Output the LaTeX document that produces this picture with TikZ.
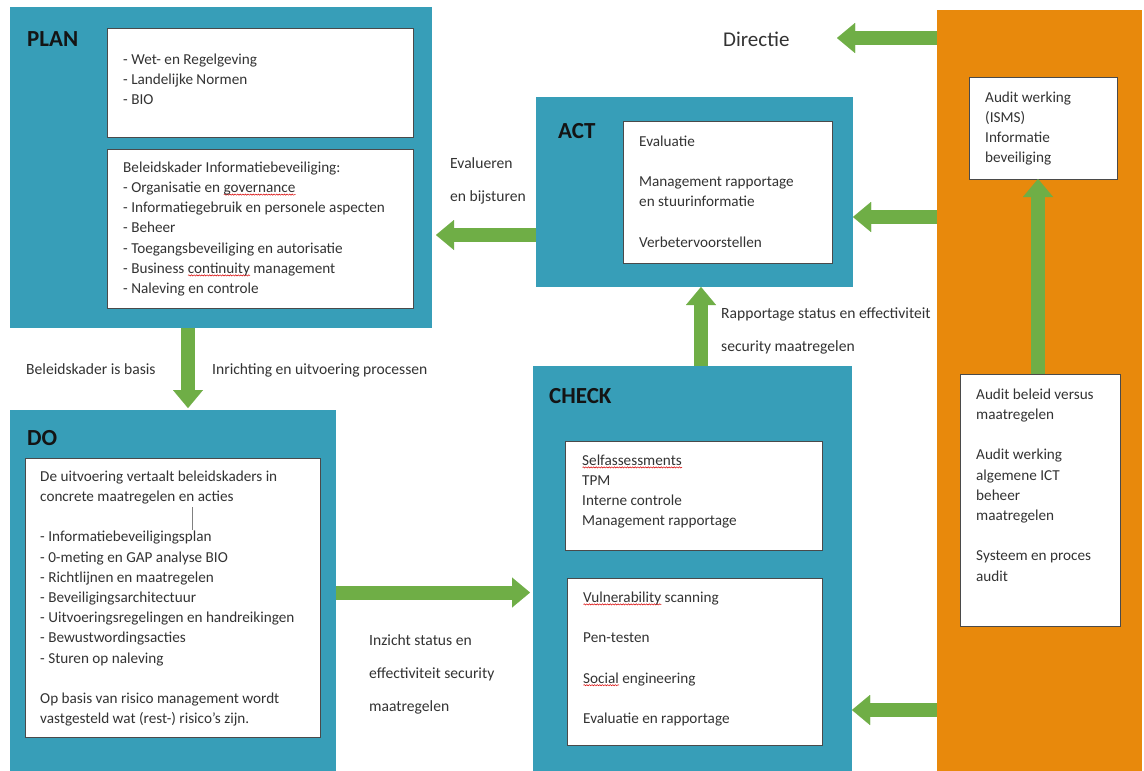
\documentclass[tikz,border=0pt]{standalone}
\usepackage{fontspec}
\setmainfont{Carlito}
\usetikzlibrary{arrows.meta,decorations.pathmorphing,calc}
\definecolor{phaseblue}{HTML}{379EB8}
\definecolor{auditorange}{HTML}{E8890C}
\definecolor{arrowgreen}{HTML}{6FAE46}
\definecolor{txtc}{HTML}{333333}
\definecolor{borderc}{HTML}{4A4A4A}
\newcommand\fs{\rule{0pt}{14pt}}
\newsavebox\spellbox
\newlength\spellwd
\newcommand\spell[1]{\sbox\spellbox{#1}\setlength\spellwd{\wd\spellbox}\rlap{\tikz[baseline=0pt]\draw[red!85!black,line width=0.5pt,decorate,decoration={snake,amplitude=0.6pt,segment length=2.6pt}] (0pt,-2.2pt) -- (\spellwd,-2.2pt);}\usebox\spellbox}
\tikzset{
  phase/.style={fill=phaseblue, draw=none, anchor=north west, inner sep=0pt, outer sep=0pt},
  audit/.style={fill=auditorange, draw=none, anchor=north west, inner sep=0pt, outer sep=0pt},
  inbox/.style={fill=white, draw=borderc, line width=0.9pt, anchor=north west, inner sep=0pt, outer sep=0pt},
  txt/.style={anchor=north west, inner sep=0pt, align=left, text=txtc, font=\fontsize{15.2}{20.2}\selectfont},
  lbl/.style={anchor=north west, inner sep=0pt, align=left, text=txtc, font=\fontsize{15.6}{33}\selectfont},
  title/.style={anchor=base west, inner sep=0pt, text=black!92, font=\bfseries\fontsize{23}{23}\selectfont},
  bigarrow/.style={draw=arrowgreen, line width=14pt, -{Triangle[width=30pt,length=18pt,line width=0.01pt]}},
}
\begin{document}
\begin{tikzpicture}[x=1pt,y=-1pt]
\useasboundingbox (0,0) rectangle (1144,771);
\fill[white] (0,0) rectangle (1144,771);

% ---------- PLAN ----------
\node[phase, minimum width=422pt, minimum height=321pt] (plan) at (10,7) {};
\node[title] (plantitle) at (27,46) {PLAN};
\node[inbox, minimum width=306pt, minimum height=109pt] (planA) at (107,28) {};
\node[inbox, minimum width=306pt, minimum height=159pt] (planB) at (107,149) {};
\node[txt] (planAt) at (123,50) {\fs- Wet- en Regelgeving\\- Landelijke Normen\\- BIO};
\node[txt] (planBt) at (123,158) {\fs Beleidskader Informatiebeveiliging:\\- Organisatie en \spell{governance}\\- Informatiegebruik en personele aspecten\\- Beheer\\- Toegangsbeveiliging en autorisatie\\- Business \spell{continuity} management\\- Naleving en controle};

% ---------- ACT ----------
\node[phase, minimum width=317pt, minimum height=190pt] (act) at (536,97) {};
\node[title] (acttitle) at (558,138) {ACT};
\node[inbox, minimum width=209pt, minimum height=142pt] (actin) at (623,121) {};
\node[txt] (actt) at (639,132) {\fs Evaluatie\\[20.2pt]Management rapportage\\en stuurinformatie\\[20.2pt]Verbetervoorstellen};

% ---------- DO ----------
\node[phase, minimum width=326pt, minimum height=362pt] (do) at (10,410) {};
\node[title] (dotitle) at (27,445) {DO};
\node[inbox, minimum width=295pt, minimum height=279pt] (doin) at (25,458) {};
\node[txt] (dot) at (40,467) {\fs De uitvoering vertaalt beleidskaders in\\concrete maatregelen en acties\\[20.2pt]- Informatiebeveiligingsplan\\- 0-meting en GAP analyse BIO\\- Richtlijnen en maatregelen\\- Beveiligingsarchitectuur\\- Uitvoeringsregelingen en handreikingen\\- Bewustwordingsacties\\- Sturen op naleving\\[20.2pt]Op basis van risico management wordt\\vastgesteld wat (rest-) risico's zijn.};
\draw[gray, line width=0.5pt] ([xshift=167pt,yshift=-49pt]doin.north west) -- ++(0,23);

% ---------- CHECK ----------
\node[phase, minimum width=319pt, minimum height=406pt] (check) at (533,366) {};
\node[title] (checktitle) at (549,403) {CHECK};
\node[inbox, minimum width=257pt, minimum height=109pt] (checkA) at (565,441) {};
\node[inbox, minimum width=255pt, minimum height=167pt] (checkB) at (567,578) {};
\node[txt] (checkAt) at (582,451) {\fs\spell{Selfassessments}\\TPM\\Interne controle\\Management rapportage};
\node[txt] (checkBt) at (583,588) {\fs\spell{Vulnerability} scanning\\[20.2pt]Pen-testen\\[20.2pt]\spell{Social} engineering\\[20.2pt]Evaluatie en rapportage};

% ---------- AUDIT (orange) ----------
\node[audit, minimum width=205pt, minimum height=762pt] (orange) at (937,10) {};
\node[inbox, minimum width=148pt, minimum height=102pt] (orA) at (969,77) {};
\node[inbox, minimum width=160pt, minimum height=252pt] (orB) at (960,374) {};
\node[txt] (orAt) at (985,88) {\fs Audit werking\\(ISMS)\\Informatie\\beveiliging};
\node[txt] (orBt) at (976,385) {\fs Audit beleid versus\\maatregelen\\[20.2pt]Audit werking\\algemene ICT\\beheer\\maatregelen\\[20.2pt]Systeem en proces\\audit};

% ---------- free labels ----------
\node[anchor=base west, inner sep=0pt, text=txtc, font=\fontsize{21}{21}\selectfont] (dir) at (723,46) {Directie};
\node[lbl] (evl) at (450,154) {\fs Evalueren\\en bijsturen};
\node[lbl] (basis) at (26,360) {\fs Beleidskader is basis};
\node[lbl] (inr) at (212,360) {\fs Inrichting en uitvoering processen};
\node[lbl] (inz) at (369,631) {\fs Inzicht status en\\effectiviteit security\\maatregelen};
\node[lbl] (rap) at (721,304) {\fs Rapportage status en effectiviteit\\security maatregelen};

% ---------- arrows ----------
\coordinate (dirtip) at (837,38);
\draw[bigarrow] (orange.west |- dirtip) -- (dirtip);
\coordinate (actin1) at ([yshift=-25pt]act.east);
\draw[bigarrow] (orange.west |- actin1) -- (actin1);
\coordinate (checkin1) at ([yshift=-141pt]check.east);
\draw[bigarrow] (orange.west |- checkin1) -- (checkin1);
\coordinate (actout) at ([yshift=-43pt]act.west);
\draw[bigarrow, shorten >=4pt] (actout) -- (plan.east |- actout);
\coordinate (checkout) at ([xshift=8.5pt]check.north);
\draw[bigarrow] (checkout) -- (act.south -| checkout);
\coordinate (planout) at ([xshift=-33pt]plan.south);
\draw[bigarrow, shorten >=2pt] (planout) -- (do.north -| planout);
\coordinate (doout) at ([yshift=-1.5pt]do.east);
\draw[bigarrow, shorten >=3pt] (doout) -- (check.west |- doout);
\coordinate (orBout) at ([xshift=-2pt]orB.north);
\draw[bigarrow] (orBout) -- (orA.south -| orBout);
\end{tikzpicture}
\end{document}
